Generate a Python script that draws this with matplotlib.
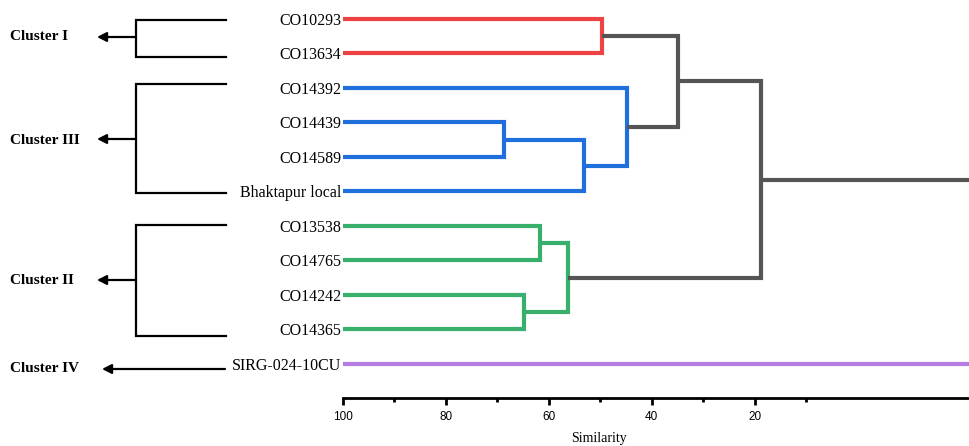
import matplotlib
matplotlib.use("Agg")
import matplotlib.pyplot as plt

# ----- DATA -----
labels = ["CO10293", "CO13634", "CO14392", "CO14439", "CO14589", "Bhaktapur local",
          "CO13538", "CO14765", "CO14242", "CO14365", "SIRG-024-10CU"]
# merges: ids < 11 are leaves, ids >= 11 are earlier merges (11, 12, ...)
merge_left = [0, 3, 12, 2, 11, 6, 8, 16, 15]
merge_right = [1, 4, 5, 13, 14, 7, 9, 17, 18]
merge_sim = [49.6, 68.7, 53.2, 44.7, 34.8, 61.7, 64.9, 56.3, 18.8]
merge_color = ["red", "blue", "blue", "blue", "gray", "green", "green", "green", "gray"]
outgroup = "SIRG-024-10CU"

clusters = ["Cluster I", "Cluster III", "Cluster II", "Cluster IV"]

COLORS = {"red": "#ef4245", "blue": "#1f6fdc", "green": "#38b06c",
          "gray": "#555555", "purple": "#b47be0"}

XMIN, XMAX = 100, -21.7
SERIF = "Liberation Serif"

fig = plt.figure(figsize=(9.69, 4.46), dpi=100)

# ----- dendrogram axes -----
ax = fig.add_axes([343 / 969, 48 / 446, 626 / 969, 398 / 446])
ax.set_xlim(XMIN, XMAX)
ax.set_ylim(10.99, -0.55)

n = len(labels)
pos_x = {i: XMIN for i in range(n)}
pos_y = {i: float(i) for i in range(n)}
for k, (a, b, s, c) in enumerate(zip(merge_left, merge_right, merge_sim, merge_color)):
    xa, ya = pos_x[a], pos_y[a]
    xb, yb = pos_x[b], pos_y[b]
    ax.plot([xa, s, s, xb], [ya, ya, yb, yb], color=COLORS[c], lw=3,
            solid_joinstyle="miter", solid_capstyle="butt", zorder=3)
    pos_x[n + k] = s
    pos_y[n + k] = (ya + yb) / 2

# root stub and outgroup line
root = n + len(merge_sim) - 1
ax.plot([pos_x[root], XMAX], [pos_y[root]] * 2, color=COLORS["gray"], lw=3,
        solid_capstyle="butt", zorder=3)
og = labels.index(outgroup)
ax.plot([XMIN, XMAX], [og, og], color=COLORS["purple"], lw=3, solid_capstyle="butt", zorder=3)

# axes styling
for side in ["left", "right", "top"]:
    ax.spines[side].set_visible(False)
ax.spines["bottom"].set_linewidth(2)
ax.set_yticks(range(n))
ax.set_yticklabels(labels, fontfamily=SERIF, fontsize=11.5)
ax.tick_params(axis="y", length=0, pad=1)
ax.set_xticks([100, 80, 60, 40, 20])
ax.set_xticks([90, 70, 50, 30, 10], minor=True)
ax.tick_params(axis="x", which="major", length=5, width=2, pad=4, labelsize=8.5)
ax.tick_params(axis="x", which="minor", length=3, width=2)
for t in ax.get_xticklabels():
    t.set_fontfamily("Liberation Sans")
ax.set_xlabel("Similarity", fontfamily=SERIF, fontsize=10)
ax.xaxis.set_label_coords(0.409, -0.085)

# ----- cluster brackets (pixel coords) -----
ov = fig.add_axes([0, 0, 1, 1])
ov.set_xlim(0, 969)
ov.set_ylim(446, 0)
ov.axis("off")

brackets = [(20, 57, 37), (84, 193, 139), (225, 336, 280)]
for top, bot, mid in brackets:
    ov.plot([226, 136, 136, 226], [top, top, bot, bot], color="black", lw=1.6,
            solid_joinstyle="miter")
    ov.annotate("", xy=(97, mid), xytext=(136, mid),
                arrowprops=dict(arrowstyle="-|>,head_length=0.55,head_width=0.28",
                                color="black", lw=1.6, shrinkA=0, shrinkB=0))
ov.annotate("", xy=(102, 369), xytext=(225, 369),
            arrowprops=dict(arrowstyle="-|>,head_length=0.55,head_width=0.28",
                            color="black", lw=1.6, shrinkA=0, shrinkB=0))

for name, y in zip(clusters, [37, 141, 281, 369]):
    ov.text(10, y, name, fontfamily=SERIF, fontweight="bold", fontsize=11,
            ha="left", va="center")

fig.savefig("out.png", dpi=100)
